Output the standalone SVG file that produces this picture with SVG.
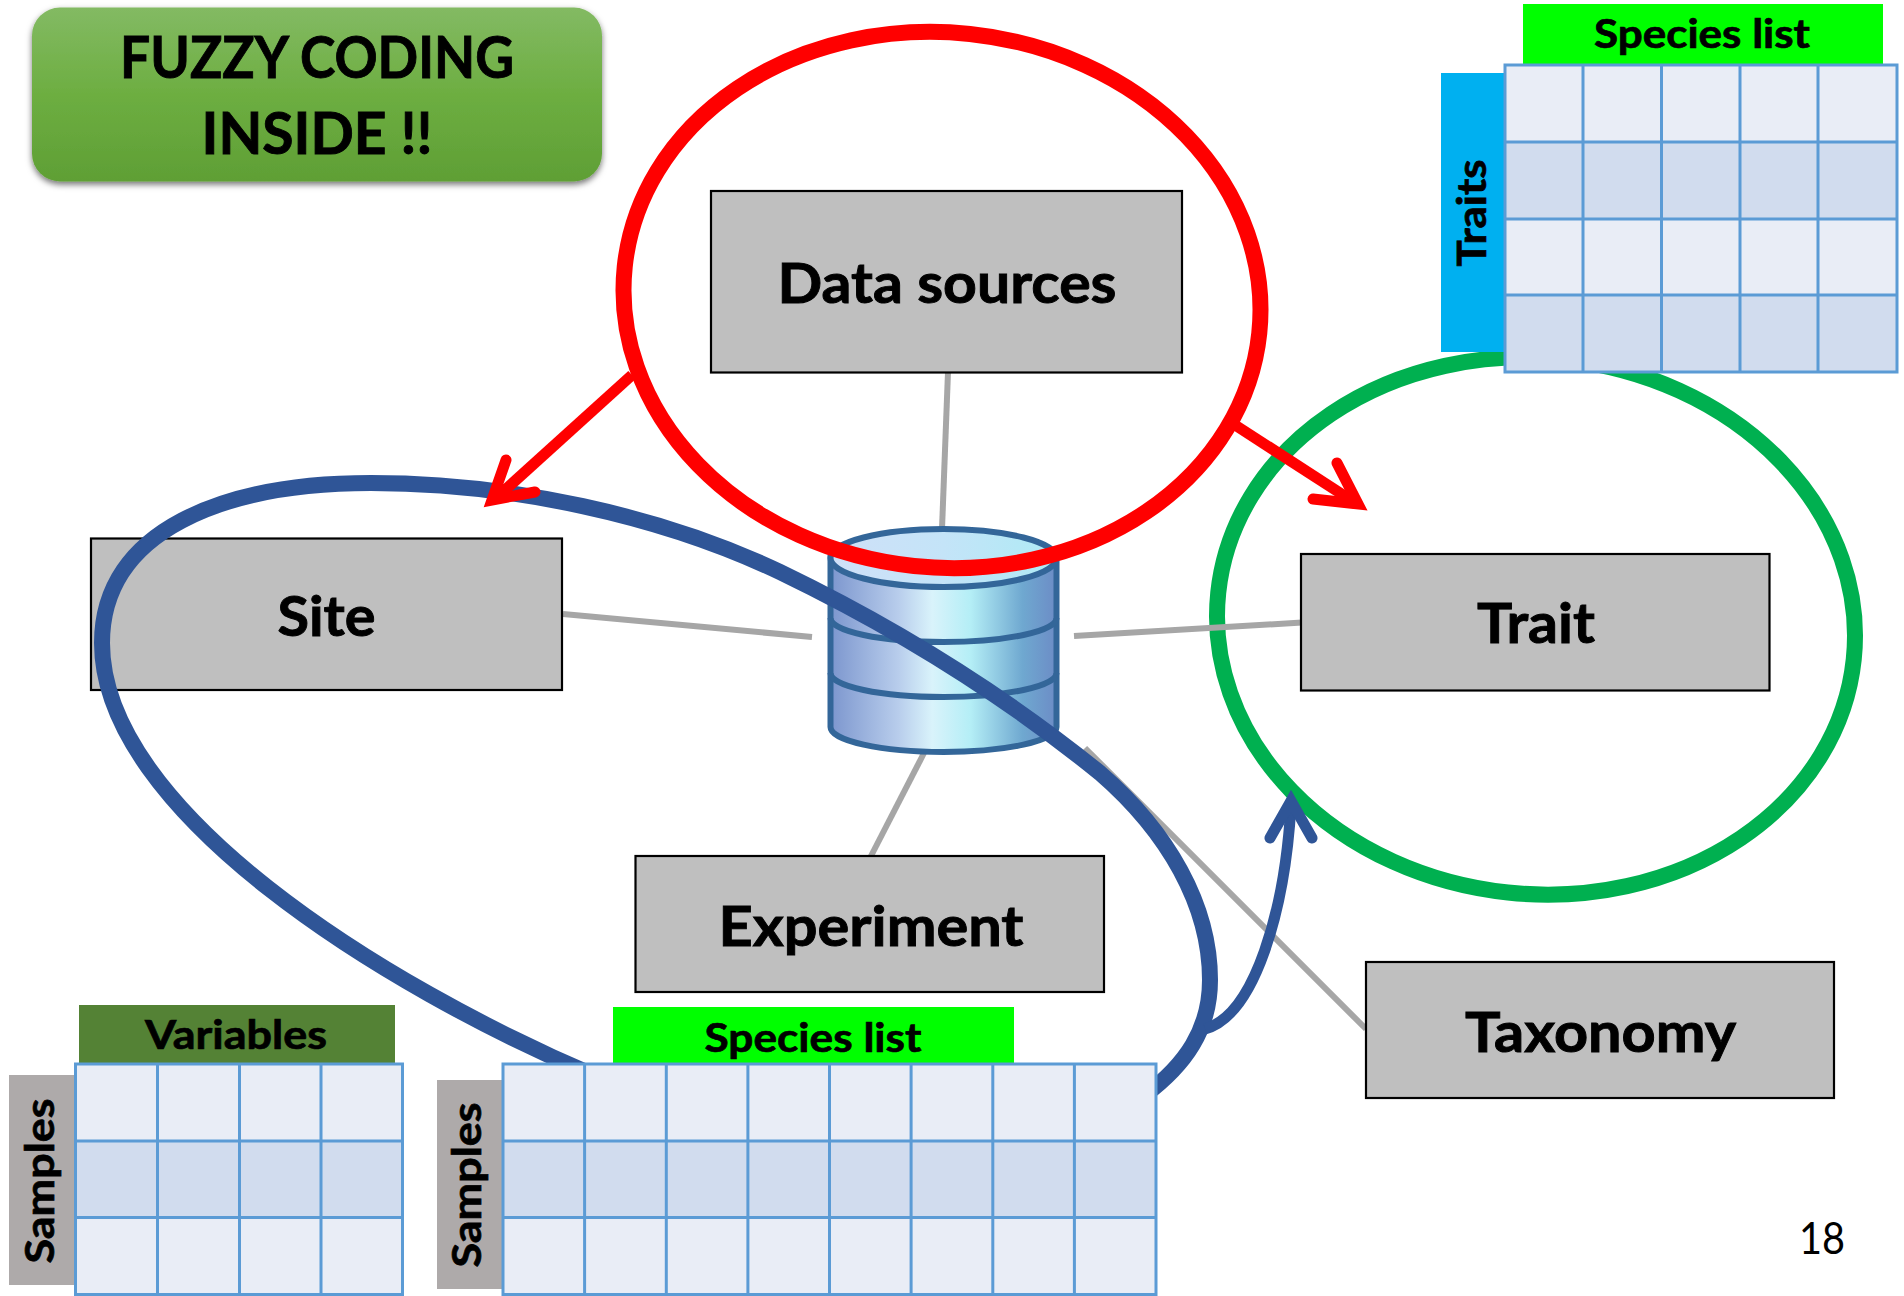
<svg xmlns="http://www.w3.org/2000/svg" width="1904" height="1296" viewBox="0 0 1904 1296">
<style>
text{font-family:Lato,"Open Sans","Liberation Sans",sans-serif;font-weight:700;fill:#000;text-anchor:middle;stroke:#000;stroke-width:.9}
.box{fill:#bfbfbf;stroke:#000;stroke-width:2.2}
.lbl{font-size:56px}
.hdr{font-size:40px;stroke-width:.7}
.gl{stroke:#a6a6a6;stroke-width:6;fill:none}
.a{fill:#e9edf6}.b{fill:#d1dcee}
.grid{fill:none;stroke:#5b9bd5;stroke-width:3}
.ring{fill:none;stroke-width:16}
.blue{fill:none;stroke:#2f5597;stroke-width:16}
.barb{fill:none;stroke-width:11;stroke-linecap:round;stroke-linejoin:miter;stroke-miterlimit:10}
.db{fill:url(#dbg);stroke:#336699;stroke-width:6}
</style>
<defs>
<linearGradient id="fz" x1="0" y1="0" x2="0" y2="1"><stop offset="0" stop-color="#83ba63"/><stop offset=".5" stop-color="#6dae41"/><stop offset="1" stop-color="#5f9f35"/></linearGradient>
<linearGradient id="dbg" x1="0" y1="0" x2="1" y2="0"><stop offset="0" stop-color="#7c96ce"/><stop offset=".3" stop-color="#b8cdec"/><stop offset=".45" stop-color="#d9f3fb"/><stop offset=".62" stop-color="#b4eef6"/><stop offset=".85" stop-color="#6fa8d0"/><stop offset="1" stop-color="#6c8cc6"/></linearGradient>
<linearGradient id="dbt" x1="0" y1="0" x2="1" y2="0"><stop offset="0" stop-color="#cfe0f8"/><stop offset=".5" stop-color="#c4e4f8"/><stop offset="1" stop-color="#aeeaf5"/></linearGradient>
<filter id="sh" x="-5%" y="-10%" width="110%" height="125%"><feDropShadow dx="0" dy="3" stdDeviation="3" flood-color="#000" flood-opacity=".55"/></filter>
</defs>

<g id="trait-ring"><ellipse class="ring" cx="1536" cy="626" rx="319.500" ry="268" stroke="#00b050" transform="rotate(6 1536 626)"/></g>

<g id="connectors-gray">
<path class="gl" d="M948 372L942 529"/>
<path class="gl" d="M563 614L812 637"/>
<path class="gl" d="M1074 636L1302 622.5"/>
<path class="gl" d="M924 753L870.5 857"/>
<path class="gl" d="M1085 748L1366 1029"/>
</g>

<g id="fuzzy-coding">
<rect x="32" y="7.500" width="570" height="174" rx="28" fill="url(#fz)" filter="url(#sh)"/>
<text x="317" y="78" font-size="58" textLength="394" lengthAdjust="spacingAndGlyphs">FUZZY CODING</text>
<text x="317" y="154" font-size="58" textLength="231" lengthAdjust="spacingAndGlyphs">INSIDE !!</text>
</g>

<g id="data-sources"><rect class="box" x="711" y="191" width="471" height="181.500"/><text class="lbl" x="947" y="303" textLength="339" lengthAdjust="spacingAndGlyphs">Data sources</text></g>
<g id="site"><rect class="box" x="91" y="538.500" width="471" height="151.500"/><text class="lbl" x="326.500" y="636" textLength="98" lengthAdjust="spacingAndGlyphs">Site</text></g>
<g id="trait"><rect class="box" x="1301" y="554" width="468.500" height="136.500"/><text class="lbl" x="1536" y="643" textLength="118" lengthAdjust="spacingAndGlyphs">Trait</text></g>
<g id="experiment"><rect class="box" x="635.500" y="856" width="468.500" height="136"/><text class="lbl" x="871" y="946" textLength="305" lengthAdjust="spacingAndGlyphs">Experiment</text></g>
<g id="taxonomy"><rect class="box" x="1366" y="962" width="468" height="136"/><text class="lbl" x="1600.500" y="1052" textLength="271" lengthAdjust="spacingAndGlyphs">Taxonomy</text></g>

<g id="database">
<path class="db" d="M830.500 727V558H1056.500V727A113 25 0 0 1 830.500 727Z"/>
<path fill="none" stroke="#336699" stroke-width="6" d="M830.500 618A113 24 0 0 0 1056.500 618M830.500 673A113 24 0 0 0 1056.500 673"/>
<ellipse cx="943.500" cy="558" rx="113" ry="29" fill="url(#dbt)" stroke="#336699" stroke-width="6"/>
</g>

<g id="connectors-blue">
<path class="blue" d="M600 1078C380 985 102 810 102 643C102 530 225 483 371 483C510 483 660 515 780 572C890 625 1000 692 1100 773C1168 832 1210 905 1210 980C1210 1030 1185 1065 1145 1095"/>
<path fill="none" stroke="#2f5597" stroke-width="11" d="M1205 1029C1255 1015 1285 910 1291 805"/>
<path class="barb" stroke="#2f5597" d="M1270 838L1291 801L1312 838"/>
</g>

<g id="species-table-top">
<rect x="1523" y="4" width="360" height="60" fill="#00ff00"/>
<rect x="1441" y="73" width="64" height="279" fill="#00b0f0"/>
<text class="hdr" x="1702" y="48" textLength="216" lengthAdjust="spacingAndGlyphs">Species list</text>
<text class="hdr" transform="translate(1486 213) rotate(-90)" textLength="107" lengthAdjust="spacingAndGlyphs">Traits</text>
<rect class="a" x="1505" y="65" width="392" height="77"/><rect class="b" x="1505" y="142" width="392" height="77"/><rect class="a" x="1505" y="219" width="392" height="76"/><rect class="b" x="1505" y="295" width="392" height="77"/>
<path class="grid" d="M1505 65H1897V372H1505ZM1505 142H1897M1505 219H1897M1505 295H1897M1583 65V372M1661.500 65V372M1740 65V372M1818 65V372"/>
</g>

<g id="variables-table">
<rect x="79" y="1005" width="316" height="59" fill="#548235"/>
<rect x="9" y="1075" width="67" height="210" fill="#aeaaaa"/>
<text class="hdr" x="236" y="1049" textLength="182" lengthAdjust="spacingAndGlyphs">Variables</text>
<text class="hdr" transform="translate(53.500 1181) rotate(-90)" textLength="165" lengthAdjust="spacingAndGlyphs">Samples</text>
<rect class="a" x="75.500" y="1064" width="327" height="77"/><rect class="b" x="75.500" y="1141" width="327" height="76.500"/><rect class="a" x="75.500" y="1217.500" width="327" height="77"/>
<path class="grid" d="M75.500 1064H402.500V1294.500H75.500ZM75.500 1141H402.500M75.500 1217.500H402.500M157.500 1064V1294.500M239.500 1064V1294.500M321 1064V1294.500"/>
</g>

<g id="species-table-bottom">
<rect x="613" y="1007" width="401" height="57" fill="#00ff00"/>
<rect x="437" y="1080" width="66" height="209" fill="#aeaaaa"/>
<text class="hdr" x="813" y="1052" textLength="217" lengthAdjust="spacingAndGlyphs">Species list</text>
<text class="hdr" transform="translate(481 1185) rotate(-90)" textLength="165" lengthAdjust="spacingAndGlyphs">Samples</text>
<rect class="a" x="503" y="1064" width="653" height="77"/><rect class="b" x="503" y="1141" width="653" height="76.500"/><rect class="a" x="503" y="1217.500" width="653" height="77"/>
<path class="grid" d="M503 1064H1156V1294.500H503ZM503 1141H1156M503 1217.500H1156M584.600 1064V1294.500M666.300 1064V1294.500M747.900 1064V1294.500M829.500 1064V1294.500M911.100 1064V1294.500M992.800 1064V1294.500M1074.400 1064V1294.500"/>
</g>

<g id="source-ring"><ellipse class="ring" cx="942" cy="300" rx="319" ry="267.500" stroke="#ff0000" transform="rotate(6 942 300)"/></g>

<g id="connectors-red">
<path fill="none" stroke="#ff0000" stroke-width="11" d="M632 375L495 499"/>
<path class="barb" stroke="#ff0000" d="M506 460L492 500L535 492"/>
<path fill="none" stroke="#ff0000" stroke-width="11" d="M1235 425L1354 502"/>
<path class="barb" stroke="#ff0000" d="M1337 463L1358 504L1313 499"/>
</g>

<text x="1822" y="1254" font-size="44" style="font-weight:400;stroke-width:0" textLength="46" lengthAdjust="spacingAndGlyphs">18</text>
</svg>
